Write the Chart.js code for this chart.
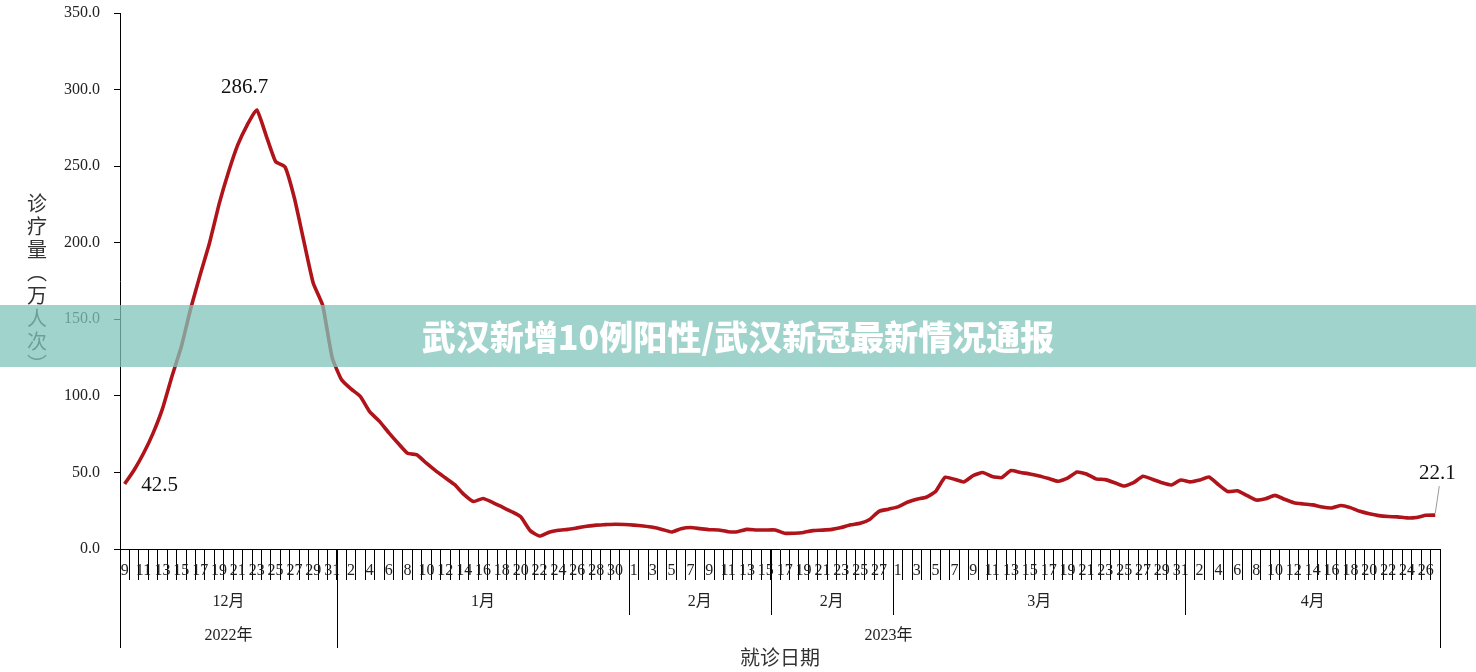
<!DOCTYPE html>
<html>
<head>
<meta charset="utf-8">
<script src="https://cdn.jsdelivr.net/npm/chart.js@4"></script>
<style>
  html, body { margin: 0; padding: 0; background: #fff; }
  #wrap { width: 1476px; height: 672px; position: relative; }
</style>
</head>
<body>
<div id="wrap"><canvas id="visitChart"></canvas></div>
<script>
  // months shown under the day labels (the February band is split in two in the original)
  var monthNames = ['12月', '1月', '2月', '2月', '3月', '4月'];
  var monthFirstDay = [9, 1, 1, 16, 1, 1];
  var monthLastDay = [31, 31, 15, 28, 31, 27];
  var yearNames = ['2022年', '2023年'];
  var yearMonthCount = [1, 5];
  var yTicks = [0, 50, 100, 150, 200, 250, 300, 350];

  // daily visits (10k person-times), 2022-12-09 .. 2023-04-27
  var decVisits = [42.5, 51.6, 62.5, 75.5, 91.5, 112.5, 132, 157, 179, 200, 225, 246, 264, 277, 286.7,
                   270, 253, 249.5, 229, 201, 173.5, 159, 125];
  var janVisits = [110.5, 104.5, 99.5, 89.5, 83.5, 76, 69, 62.5, 61.5, 56, 51, 46.5, 42, 35.5, 31, 33,
                   30.5, 27.5, 24.5, 21, 12, 8.5, 11, 12.2, 12.8, 13.8, 14.8, 15.6, 15.9, 16.2, 16.0];
  var febVisitsA = [15.6, 15.0, 14.2, 12.8, 11.1, 13.2, 14.0, 13.3, 12.6, 12.4, 11.3, 11.3, 12.8, 12.4, 12.4];
  var febVisitsB = [12.4, 10.3, 10.3, 10.8, 12.0, 12.3, 12.8, 14.0, 15.8, 16.8, 19.3, 24.6, 26.0];
  var marVisits = [27.5, 30.5, 32.5, 33.8, 37.5, 46.8, 45.5, 43.8, 48.0, 50.0, 47.4, 46.6, 51.2, 50.0, 49.0,
                   47.7, 46.0, 44.2, 46.3, 50.3, 49.0, 45.8, 45.3, 43.3, 41.1, 43.3, 47.5, 45.5, 43.3, 41.8, 45.1];
  var aprVisits = [43.8, 45.0, 47.0, 42.0, 37.5, 38.0, 35.0, 32.0, 32.8, 35.0, 32.5, 30.2, 29.4, 28.8, 27.4,
                   26.8, 28.4, 27.0, 24.6, 23.0, 21.8, 21.2, 21.0, 20.3, 20.6, 22.0, 22.1];

  var visits = decVisits.concat(janVisits, febVisitsA, febVisitsB, marVisits, aprVisits);

  // day-of-month labels and where each month band starts
  var dayLabels = [];
  var monthStart = [];
  for (var m = 0; m < monthNames.length; m++) {
    monthStart.push(dayLabels.length);
    for (var d = monthFirstDay[m]; d <= monthLastDay[m]; d++) dayLabels.push(String(d));
  }
  monthStart.push(dayLabels.length);

  var pointNotes = [
    { index: 0, text: '42.5', dx: 35, dy: 2 },
    { index: 14, text: '286.7', dx: -12, dy: -22 },
    { index: 139, text: '22.1', dx: 2, dy: -42, leader: true }
  ];

  var SERIF = "'Liberation Serif', 'Noto Sans CJK SC', serif";
  var SANS = "'Noto Sans CJK SC', 'Noto Sans', sans-serif";
  Chart.defaults.font.family = SERIF;
  Chart.defaults.color = '#222';

  // month / year rows under the axis
  var axisGroups = {
    id: 'axisGroups',
    afterDraw: function (chart) {
      var xs = chart.scales.x, ctx = chart.ctx, base = chart.chartArea.bottom;
      var half = (xs.getPixelForValue(1) - xs.getPixelForValue(0)) / 2;
      var edge = function (i) {
        return i >= visits.length ? xs.getPixelForValue(visits.length - 1) + half : xs.getPixelForValue(i) - half;
      };
      ctx.save();
      ctx.strokeStyle = '#000';
      ctx.lineWidth = 1;
      ctx.fillStyle = '#222';
      ctx.textAlign = 'center';
      ctx.textBaseline = 'middle';
      ctx.font = '16px ' + SERIF;
      for (var m = 0; m <= monthNames.length; m++) {
        var px = Math.round(edge(monthStart[m])) + 0.5;
        ctx.beginPath(); ctx.moveTo(px, base); ctx.lineTo(px, base + 66); ctx.stroke();
        if (m < monthNames.length) {
          ctx.fillText(monthNames[m], (edge(monthStart[m]) + edge(monthStart[m + 1])) / 2, base + 53);
        }
      }
      var mi = 0;
      for (var y = 0; y <= yearNames.length; y++) {
        var yx = Math.round(edge(monthStart[mi])) + 0.5;
        ctx.beginPath(); ctx.moveTo(yx, base); ctx.lineTo(yx, base + 99); ctx.stroke();
        if (y < yearNames.length) {
          var next = mi + yearMonthCount[y];
          ctx.fillText(yearNames[y], (edge(monthStart[mi]) + edge(monthStart[next])) / 2, base + 87);
          mi = next;
        }
      }
      ctx.restore();
    }
  };

  // value notes on the line
  var notes = {
    id: 'notes',
    afterDatasetsDraw: function (chart) {
      var ctx = chart.ctx, pts = chart.getDatasetMeta(0).data;
      ctx.save();
      ctx.font = '21px ' + SERIF;
      ctx.fillStyle = '#111';
      ctx.textAlign = 'center';
      ctx.textBaseline = 'middle';
      pointNotes.forEach(function (n) {
        var p = pts[n.index];
        if (n.leader) {
          ctx.strokeStyle = '#999';
          ctx.lineWidth = 1;
          ctx.beginPath(); ctx.moveTo(p.x, p.y - 2); ctx.lineTo(p.x + 4, p.y + n.dy + 13); ctx.stroke();
        }
        ctx.fillText(n.text, p.x + n.dx, p.y + n.dy);
      });
      ctx.restore();
    }
  };

  // stacked vertical y title + the banner across the middle
  var overlay = {
    id: 'overlay',
    afterDraw: function (chart) {
      var ctx = chart.ctx;
      var chars = ['诊', '疗', '量', '︵', '万', '人', '次', '︶'];
      ctx.save();
      ctx.font = '20px ' + SANS;
      ctx.fillStyle = '#333';
      ctx.textAlign = 'center';
      ctx.textBaseline = 'middle';
      chars.forEach(function (c, i) { ctx.fillText(c, 37, 203 + i * 23); });

      ctx.fillStyle = 'rgba(128,196,186,0.75)';
      ctx.fillRect(0, 305, chart.width, 62);
      ctx.fillStyle = '#fff';
      ctx.font = '900 34px ' + SANS;
      ctx.fillText('武汉新增10例阳性/武汉新冠最新情况通报', 738, 337);
      ctx.restore();
    }
  };

  var ctxLine = document.getElementById('visitChart').getContext('2d');
  var visitChart = new Chart(ctxLine, {
    type: 'line',
    data: {
      labels: dayLabels,
      datasets: [{
        label: '诊疗量',
        data: visits,
        borderColor: '#B0141B',
        borderWidth: 3.6,
        pointRadius: 0,
        tension: 0.15,
        fill: false
      }]
    },
    options: {
      responsive: true,
      maintainAspectRatio: false,
      animation: false,
      layout: { padding: { top: 13, right: 36, left: 0, bottom: 0 } },
      plugins: { legend: { display: false }, tooltip: { enabled: false } },
      scales: {
        x: {
          offset: true,
          afterFit: function (s) { s.height = 123; },
          grid: { offset: true, drawOnChartArea: false, tickLength: 31, color: '#000', lineWidth: 1 },
          border: { color: '#000', width: 1 },
          ticks: {
            autoSkip: false, maxRotation: 0, minRotation: 0, padding: -19,
            font: { size: 16, family: SERIF }, color: '#222',
            callback: function (v, i) { return i % 2 === 0 ? dayLabels[i] : ''; }
          },
          title: {
            display: true, text: '就诊日期', color: '#333',
            font: { size: 20, family: SANS }, padding: { top: 65, bottom: 3 }
          }
        },
        y: {
          min: yTicks[0],
          max: yTicks[yTicks.length - 1],
          afterFit: function (s) { s.width = 120; s.paddingTop = 0; s.paddingBottom = 0; },
          afterBuildTicks: function (s) { s.ticks = yTicks.map(function (v) { return { value: v }; }); },
          grid: { drawOnChartArea: false, tickLength: 6, color: '#000' },
          border: { color: '#000', width: 1 },
          ticks: {
            padding: 14, font: { size: 16, family: SERIF }, color: '#222',
            callback: function (v) { return Number(v).toFixed(1); }
          }
        }
      }
    },
    plugins: [axisGroups, notes, overlay]
  });
</script>
</body>
</html>
